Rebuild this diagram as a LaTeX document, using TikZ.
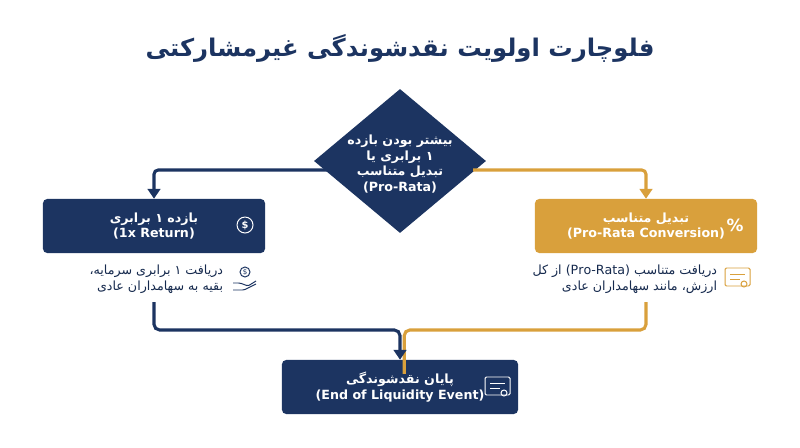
\documentclass[tikz,border=0pt]{standalone}
\usepackage{fontspec}
\setmainfont{DejaVu Sans}
\newfontfamily\fa[Script=Arabic]{DejaVu Sans}
\usetikzlibrary{positioning,shapes.geometric,arrows.meta}
\TeXXeTstate=1
\newcommand{\rtl}[1]{\beginR#1\endR}
\definecolor{navy}{HTML}{1C3461}
\definecolor{gold}{HTML}{D9A03C}
\tikzset{
  box/.style={rounded corners=3pt, minimum width=5.55cm, minimum height=1.35cm, text=white, align=center, font=\fa\bfseries\small},
  desc/.style={align=right, text=navy!80!black, font=\fa\small},
  link/.style={line width=2.2pt, -{Triangle[length=7pt,width=9pt]}},
  icon/.style={line width=0.7pt}
}
\begin{document}
\begin{tikzpicture}[x=0.025cm,y=-0.025cm]
\useasboundingbox[fill=white] (0,0) rectangle (800,447);
\node[font=\fa\bfseries\LARGE, text=navy] (title) at (400,48) {\rtl{فلوچارت اولویت نقدشوندگی غیرمشارکتی}};
% decision
\node[diamond, fill=navy, minimum width=4.3cm, minimum height=3.6cm, inner sep=0pt] (dec) at (400,161) {};
\node[text=white, align=center, font=\fa\bfseries\small] (dect) at (400,164) {\rtl{بیشتر بودن بازده}\\\rtl{۱ برابری یا}\\\rtl{تبدیل متناسب}\\(Pro-Rata)};
% branches
\node[box, fill=navy] (ret) at (154,226) {\rtl{بازده ۱ برابری}\\(1x Return)};
\node[box, fill=gold] (conv) at (646,226) {\rtl{تبدیل متناسب}\\(Pro-Rata Conversion)};
\node[box, fill=navy, minimum width=5.9cm] (end) at (400,387) {\rtl{پایان نقدشوندگی}\\(End of Liquidity Event)};
% descriptions
\node[desc, anchor=east] (retd) at (228,279) {\rtl{دریافت ۱ برابری سرمایه،}\\\rtl{بقیه به سهامداران عادی}};
\node[desc, anchor=east] (convd) at (722,279) {\rtl{از کل}\ (Pro-Rata)\ \rtl{دریافت متناسب}\\\rtl{ارزش، مانند سهامداران عادی}};
% icons
\draw[icon, white] (245,225) circle (8);
\node[text=white, font=\bfseries\scriptsize] (dollar) at (245,225) {\$};
\node[text=white, font=\bfseries\large] (pct) at (735,225) {\%};
\draw[icon, navy] (245,272) circle (5);
\node[text=navy, font=\tiny] (coin) at (245,272) {\$};
\draw[icon, navy, rounded corners=1pt] (233,283) -- (240,283) -- (248,286) -- (256,281) (233,290) -- (244,290) -- (256,284);
\draw[icon, gold, rounded corners=1pt] (725,268) rectangle (750,286);
\draw[icon, gold] (730,274) -- (745,274) (730,279) -- (740,279);
\draw[icon, gold] (744,284) circle (3);
\draw[icon, white, rounded corners=1pt] (485,377) rectangle (510,395);
\draw[icon, white] (490,383) -- (505,383) (490,388) -- (500,388);
\draw[icon, white] (504,393) circle (3);
% connectors
\coordinate (ls) at (327,170);
\coordinate (rs) at (473,170);
\coordinate (lk) at (154,170);
\coordinate (rk) at (646,170);
\coordinate (lb) at (154,302);
\coordinate (rb) at (646,302);
\coordinate (lm) at (154,330);
\coordinate (rm) at (646,330);
\coordinate (mm) at (400,330);
\draw[link, navy, rounded corners=3pt] (ls) -- (lk) -- (ret.north);
\draw[link, gold, rounded corners=3pt] (rs) -- (rk) -- (conv.north);
\draw[line width=2.2pt, gold, rounded corners=4pt] (rb) -- (rm) -- ([xshift=3pt]mm) -- ([xshift=3pt,yshift=-10pt]end.north);
\draw[link, navy, rounded corners=4pt] (lb) -- (lm) -- (mm) -- (end.north);
\end{tikzpicture}
\end{document}
